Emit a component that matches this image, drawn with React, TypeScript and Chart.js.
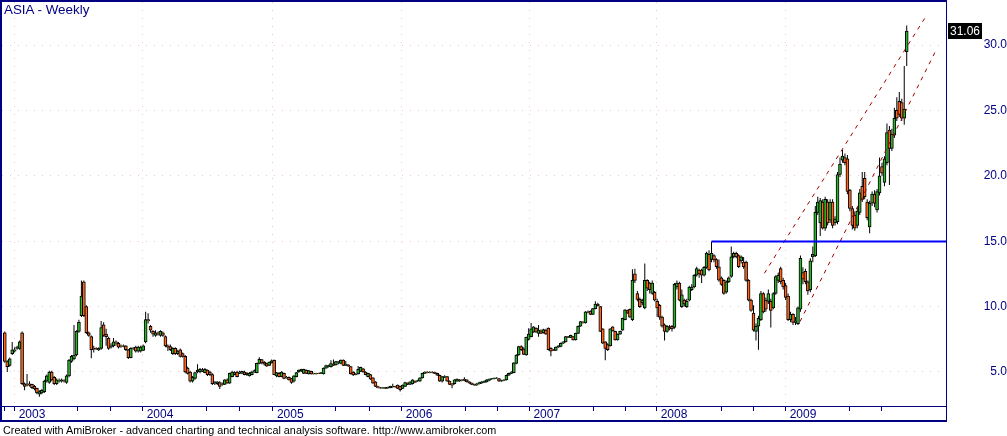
import React, { useEffect, useRef } from 'react';
import { Chart, registerables } from 'chart.js';

Chart.register(...registerables);

// Weekly OHLC, one entry per week (Dec 2002 .. Dec 2009)
const opens = [
  8.0, 5.8, 5.5, 6.4, 6.6, 6.8, 6.8, 8.0, 4.1, 4.0,
  4.1, 4.05, 3.9, 3.75, 3.3, 3.4, 3.5, 4.3, 4.2, 5.0,
  4.6, 4.1, 4.3, 4.3, 4.35, 4.2, 4.7, 5.8, 6.0, 6.3,
  8.1, 9.3, 11.9, 10.0, 8.0, 7.7, 6.8, 6.8, 6.7, 6.8,
  8.6, 7.9, 7.6, 6.9, 7.0, 7.3, 7.2, 7.0, 6.95, 7.0,
  6.7, 6.1, 6.8, 6.9, 6.6, 6.6, 6.65, 7.3, 9.0, 8.5,
  8.1, 7.8, 8.0, 7.8, 8.0, 7.7, 7.0, 6.95, 6.4, 6.8,
  6.4, 6.7, 6.4, 6.2, 5.3, 5.0, 4.3, 4.5, 5.0, 5.0,
  5.15, 4.95, 5.15, 5.0, 4.8, 4.15, 4.1, 4.2, 4.05, 4.05,
  4.4, 4.15, 4.65, 4.95, 5.0, 4.9, 4.9, 5.0, 4.8, 4.7,
  4.8, 5.0, 4.95, 5.66, 5.95, 5.75, 5.65, 5.5, 5.7, 5.9,
  4.7, 4.9, 4.65, 4.9, 4.55, 4.6, 4.5, 4.3, 4.65, 5.0,
  5.1, 4.9, 5.15, 4.85, 5.05, 4.9, 4.85, 4.9, 4.88, 4.85,
  5.3, 5.4, 5.4, 5.6, 5.55, 5.75, 5.66, 5.92, 5.5, 5.55,
  5.41, 5.0, 4.8, 4.85, 5.05, 5.25, 5.0, 4.65, 4.8, 4.55,
  4.25, 3.88, 3.78, 3.76, 3.8, 3.76, 3.8, 3.9, 3.85, 4.0,
  3.9, 3.75, 3.9, 4.15, 4.05, 4.1, 4.3, 4.3, 4.3, 4.55,
  4.9, 5.0, 4.95, 5.0, 4.98, 4.9, 4.75, 4.3, 4.6, 4.65,
  4.3, 4.1, 4.1, 4.3, 4.3, 4.4, 4.35, 4.4, 4.25, 4.15,
  4.05, 4.0, 4.1, 4.15, 4.2, 4.25, 4.35, 4.45, 4.48, 4.52,
  4.5, 4.3, 4.35, 4.4, 4.75, 4.9, 4.95, 5.66, 6.3, 6.95,
  6.75, 6.3, 7.5, 7.7, 8.05, 8.35, 7.95, 8.15, 8.0, 8.2,
  8.35, 6.8, 6.7, 6.65, 6.9, 6.95, 7.2, 7.3, 7.7, 7.65,
  7.7, 7.45, 7.95, 8.5, 8.8, 8.75, 9.55, 9.65, 9.4, 9.85,
  10.2, 10.0, 8.3, 7.3, 7.1, 7.0, 8.45, 8.1, 7.45, 7.9,
  8.2, 9.0, 9.7, 9.8, 9.0, 12.5, 11.0, 10.55, 10.3, 9.9,
  12.0, 11.8, 11.0, 11.1, 10.4, 10.1, 9.2, 8.6, 8.1, 8.4,
  8.5, 8.4, 11.5, 11.8, 10.0, 10.5, 10.0, 10.5, 11.3, 11.5,
  12.4, 12.8, 12.8, 12.4, 13.0, 14.0, 13.6, 13.9, 13.6, 13.05,
  12.2, 12.0, 11.1, 11.9, 12.3, 13.8, 14.07, 13.9, 13.5, 13.4,
  13.4, 12.0, 10.5, 9.5, 8.1, 8.5, 9.0, 11.0, 10.5, 10.4,
  10.4, 9.9, 11.0, 12.0, 12.9, 12.0, 11.6, 10.8, 9.0, 9.4,
  8.8, 8.7, 9.8, 12.6, 12.7, 11.9, 11.3, 13.8, 13.9, 17.2,
  16.4, 18.0, 16.0, 18.0, 16.6, 18.0, 16.4, 16.5, 20.1, 21.2,
  21.4, 21.3, 18.9, 17.5, 17.0, 16.2, 17.2, 19.2, 19.8, 18.0,
  16.1, 17.9, 18.6, 17.4, 18.7, 20.7, 19.5, 21.0, 23.5, 22.1,
  23.1, 25.0, 25.7, 25.6, 24.4, 29.5,
];

const highs = [
  8.1, 5.9, 6.1, 7.3, 6.9, 7.0, 7.4, 8.1, 4.2, 4.85,
  4.3, 4.1, 4.0, 3.8, 3.6, 3.7, 4.4, 4.8, 5.1, 5.1,
  4.7, 4.5, 4.5, 4.5, 4.45, 4.8, 6.0, 6.3, 8.6, 8.2,
  9.0, 12.0, 12.0, 10.1, 8.1, 7.8, 7.0, 6.9, 6.9, 8.9,
  8.8, 8.3, 7.7, 7.2, 7.6, 7.4, 7.3, 7.1, 7.1, 7.05,
  6.75, 6.9, 6.9, 7.0, 7.0, 7.0, 7.1, 9.6, 9.5, 8.6,
  8.2, 8.2, 8.1, 8.2, 8.1, 7.8, 7.1, 7.1, 6.9, 6.9,
  6.7, 6.8, 6.5, 6.3, 5.4, 5.1, 4.7, 5.0, 5.6, 5.3,
  5.3, 5.3, 5.2, 5.1, 4.9, 4.3, 4.3, 4.3, 4.2, 4.45,
  4.5, 4.95, 5.1, 5.05, 5.1, 5.1, 5.1, 5.1, 5.0, 5.0,
  5.1, 5.2, 5.7, 6.12, 6.0, 5.85, 5.7, 5.8, 5.95, 5.95,
  5.0, 5.0, 5.05, 4.95, 4.7, 4.65, 4.55, 4.75, 5.0, 5.2,
  5.25, 5.25, 5.2, 5.15, 5.1, 4.95, 4.95, 4.95, 5.0, 5.35,
  5.55, 5.55, 5.9, 5.95, 5.85, 5.85, 5.95, 5.95, 5.85, 5.6,
  5.45, 5.05, 4.9, 5.45, 5.4, 5.3, 5.05, 4.95, 4.85, 4.6,
  4.3, 3.95, 3.85, 3.85, 3.85, 3.88, 3.95, 4.1, 3.95, 4.05,
  3.95, 4.05, 4.25, 4.2, 4.3, 4.45, 4.35, 4.4, 4.6, 4.95,
  5.05, 5.05, 5.05, 5.05, 5.02, 4.95, 4.8, 4.7, 4.75, 4.7,
  4.35, 4.15, 4.45, 4.5, 4.45, 4.45, 4.6, 4.45, 4.3, 4.2,
  4.1, 4.15, 4.25, 4.3, 4.35, 4.45, 4.5, 4.55, 4.58, 4.6,
  4.55, 4.4, 4.45, 4.8, 4.95, 5.05, 5.75, 6.35, 7.0, 7.05,
  6.9, 7.7, 8.35, 8.75, 8.5, 8.4, 8.6, 8.25, 8.3, 8.3,
  8.4, 6.9, 6.75, 6.95, 7.05, 7.25, 7.35, 7.75, 7.75, 7.85,
  7.75, 8.0, 8.55, 8.9, 8.9, 9.65, 9.7, 9.7, 9.9, 10.4,
  10.3, 10.05, 8.35, 7.35, 7.2, 8.35, 8.5, 8.15, 7.95, 8.15,
  9.15, 9.8, 9.75, 9.85, 12.85, 12.9, 11.2, 10.7, 10.6, 13.3,
  12.1, 11.9, 12.0, 11.2, 10.6, 10.2, 9.3, 8.7, 8.6, 8.6,
  8.6, 11.8, 12.0, 11.9, 11.3, 10.6, 10.6, 11.6, 11.7, 12.5,
  13.05, 12.9, 12.9, 13.1, 14.2, 14.3, 14.98, 14.0, 13.7, 13.6,
  12.3, 12.1, 12.0, 12.3, 14.6, 14.2, 14.2, 14.0, 13.9, 13.8,
  13.5, 12.1, 10.6, 10.1, 8.7, 9.3, 11.2, 11.1, 10.7, 11.3,
  10.6, 11.1, 12.4, 12.6, 13.05, 12.2, 11.8, 11.0, 9.6, 9.5,
  9.2, 10.0, 13.9, 13.0, 12.9, 12.0, 13.7, 14.6, 17.7, 18.4,
  18.3, 18.2, 18.4, 18.2, 18.2, 18.2, 16.9, 20.3, 21.4, 22.0,
  21.7, 21.6, 19.0, 17.7, 17.3, 17.6, 19.0, 20.3, 20.3, 18.2,
  18.1, 18.8, 18.9, 19.0, 21.4, 21.0, 21.5, 24.0, 23.8, 23.6,
  25.2, 26.0, 26.4, 25.9, 28.4, 31.5,
];

const lows = [
  5.7, 5.0, 5.4, 6.3, 6.5, 6.7, 6.7, 4.0, 3.6, 3.9,
  3.9, 3.7, 3.6, 3.3, 3.1, 3.3, 3.4, 4.2, 4.1, 4.3,
  4.0, 4.0, 4.2, 4.2, 4.2, 4.1, 4.6, 5.7, 5.9, 6.2,
  8.0, 9.2, 9.2, 7.9, 7.7, 6.05, 6.5, 6.7, 6.6, 6.7,
  7.7, 7.0, 6.7, 6.8, 6.9, 7.0, 6.8, 6.85, 6.9, 6.6,
  6.0, 6.05, 6.7, 6.5, 6.5, 6.5, 6.6, 7.2, 8.7, 8.0,
  7.7, 7.7, 7.8, 7.7, 7.7, 6.9, 6.6, 6.6, 6.3, 6.3,
  6.3, 6.1, 6.1, 4.9, 4.8, 4.2, 4.2, 4.4, 4.9, 4.9,
  5.0, 4.9, 4.7, 4.7, 4.0, 4.0, 4.0, 3.7, 3.95, 4.0,
  4.1, 4.1, 4.6, 4.75, 4.6, 4.85, 4.85, 4.75, 4.7, 4.65,
  4.75, 4.95, 4.9, 5.6, 5.6, 5.5, 5.4, 5.45, 5.65, 4.75,
  4.6, 4.6, 4.6, 4.45, 4.5, 4.35, 4.1, 4.2, 4.6, 4.95,
  5.0, 4.85, 4.85, 4.8, 4.8, 4.8, 4.8, 4.85, 4.85, 4.8,
  5.25, 5.35, 5.35, 5.45, 5.5, 5.6, 5.6, 5.45, 5.45, 5.4,
  4.8, 4.7, 4.75, 4.8, 5.0, 4.95, 4.75, 4.6, 4.4, 4.1,
  3.85, 3.75, 3.72, 3.72, 3.7, 3.72, 3.75, 3.8, 3.8, 3.7,
  3.5, 3.7, 3.85, 4.0, 4.0, 4.05, 4.15, 4.25, 4.25, 4.5,
  4.85, 4.9, 4.9, 4.9, 4.85, 4.7, 4.25, 4.2, 4.55, 4.25,
  4.0, 3.75, 4.05, 4.25, 4.25, 4.3, 4.3, 4.2, 4.1, 4.0,
  3.95, 3.95, 4.05, 4.1, 4.15, 4.2, 4.3, 4.4, 4.45, 4.48,
  4.25, 4.25, 4.3, 4.35, 4.7, 4.85, 4.9, 5.6, 6.25, 6.6,
  6.3, 6.25, 7.4, 7.65, 8.0, 8.0, 7.7, 7.9, 7.95, 7.85,
  6.65, 6.2, 6.6, 6.6, 6.85, 6.9, 7.15, 7.25, 7.6, 7.6,
  7.4, 7.4, 7.9, 8.45, 8.7, 8.7, 9.5, 9.35, 9.35, 9.8,
  10.0, 8.05, 7.15, 5.9, 6.6, 6.95, 8.1, 7.4, 7.4, 7.85,
  8.15, 8.95, 9.45, 9.15, 8.9, 11.8, 10.4, 9.9, 10.1, 9.8,
  11.2, 11.0, 10.9, 10.4, 9.2, 9.0, 8.4, 7.4, 8.0, 8.2,
  8.1, 8.3, 11.3, 10.4, 9.9, 10.0, 9.9, 10.4, 11.2, 11.4,
  12.3, 12.2, 11.8, 12.3, 12.9, 12.7, 13.4, 13.4, 12.9, 11.9,
  11.6, 10.9, 11.0, 11.8, 12.2, 13.7, 13.7, 12.95, 13.3, 12.9,
  11.9, 10.4, 9.6, 8.1, 7.4, 6.7, 8.9, 9.5, 9.6, 10.2,
  8.4, 9.8, 10.9, 11.8, 11.7, 11.3, 10.5, 8.9, 8.8, 8.6,
  8.6, 8.6, 9.6, 11.7, 11.7, 10.9, 11.1, 13.4, 13.8, 17.0,
  15.4, 15.9, 15.8, 16.2, 16.4, 16.0, 16.2, 16.3, 19.9, 21.0,
  20.8, 18.6, 17.3, 15.9, 15.8, 16.0, 17.0, 18.0, 18.2, 16.6,
  15.6, 17.7, 17.6, 17.2, 18.5, 20.0, 19.2, 20.8, 19.3, 21.9,
  22.9, 24.2, 24.5, 24.2, 23.9, 28.4,
];

const closes = [
  5.8, 5.4, 6.0, 6.7, 6.7, 6.9, 7.3, 4.1, 3.9, 4.1,
  4.0, 3.8, 3.7, 3.4, 3.5, 3.6, 4.3, 4.7, 5.0, 4.4,
  4.1, 4.4, 4.35, 4.4, 4.3, 4.7, 5.9, 6.2, 6.3, 8.1,
  8.8, 10.8, 9.3, 8.0, 7.8, 6.7, 6.75, 6.75, 6.8, 8.4,
  7.8, 7.7, 6.8, 7.0, 7.3, 7.2, 6.9, 6.95, 7.0, 6.7,
  6.1, 6.8, 6.85, 6.6, 6.9, 6.9, 7.0, 9.0, 8.9, 8.2,
  7.9, 8.0, 7.9, 8.1, 7.8, 7.0, 6.9, 6.7, 6.8, 6.4,
  6.6, 6.2, 6.2, 5.0, 4.9, 4.3, 4.6, 4.95, 5.15, 5.2,
  5.05, 5.2, 4.8, 4.8, 4.1, 4.25, 4.25, 3.9, 4.1, 4.4,
  4.15, 4.9, 5.0, 4.8, 4.65, 5.0, 5.05, 4.8, 4.9, 4.9,
  5.0, 5.1, 5.66, 5.97, 5.7, 5.6, 5.45, 5.75, 5.85, 4.8,
  4.95, 4.65, 5.0, 4.5, 4.6, 4.4, 4.2, 4.7, 4.95, 5.15,
  5.2, 5.2, 4.9, 5.1, 4.85, 4.85, 4.9, 4.88, 4.95, 5.3,
  5.5, 5.5, 5.65, 5.5, 5.8, 5.8, 5.92, 5.5, 5.6, 5.45,
  4.85, 4.77, 4.85, 5.2, 5.35, 5.0, 4.8, 4.9, 4.45, 4.14,
  3.9, 3.78, 3.76, 3.8, 3.75, 3.82, 3.9, 3.85, 3.9, 3.75,
  3.65, 4.0, 4.2, 4.05, 4.25, 4.4, 4.2, 4.35, 4.55, 4.9,
  5.0, 4.95, 5.0, 4.97, 4.9, 4.75, 4.3, 4.65, 4.65, 4.3,
  4.05, 4.0, 4.4, 4.45, 4.4, 4.35, 4.45, 4.25, 4.15, 4.05,
  4.0, 4.1, 4.2, 4.25, 4.3, 4.4, 4.45, 4.5, 4.52, 4.55,
  4.3, 4.35, 4.4, 4.75, 4.9, 5.0, 5.7, 6.3, 6.95, 6.7,
  6.35, 7.65, 7.9, 8.3, 8.45, 8.05, 8.2, 7.95, 8.25, 7.9,
  6.7, 6.6, 6.65, 6.9, 7.0, 7.2, 7.3, 7.7, 7.65, 7.8,
  7.45, 7.95, 8.5, 8.85, 8.75, 9.6, 9.6, 9.4, 9.85, 10.2,
  10.05, 8.1, 7.2, 6.8, 6.7, 8.3, 8.15, 7.45, 7.9, 8.1,
  9.1, 9.75, 9.5, 9.2, 12.0, 12.0, 10.55, 10.0, 10.5, 12.0,
  11.4, 11.3, 11.8, 10.5, 9.9, 9.2, 8.5, 8.1, 8.5, 8.3,
  8.3, 11.7, 11.8, 10.5, 10.9, 10.2, 10.4, 11.5, 11.5, 12.4,
  12.9, 12.5, 12.4, 13.0, 14.1, 12.8, 14.1, 13.56, 13.05, 12.03,
  11.7, 11.0, 11.9, 12.2, 13.8, 14.07, 13.8, 13.05, 13.8, 13.05,
  12.0, 10.5, 9.7, 8.2, 8.5, 9.1, 11.0, 9.6, 9.8, 11.0,
  9.7, 11.0, 12.3, 12.4, 11.9, 11.5, 10.7, 9.0, 9.4, 8.8,
  8.9, 9.9, 13.7, 12.1, 11.9, 11.2, 13.5, 14.0, 17.2, 18.0,
  18.1, 16.0, 18.2, 16.4, 18.0, 16.2, 16.7, 20.1, 20.9, 21.5,
  21.0, 18.8, 17.5, 16.2, 16.0, 17.3, 18.7, 18.2, 18.4, 16.8,
  17.9, 18.6, 17.9, 18.8, 20.0, 20.2, 21.3, 23.3, 22.1, 23.2,
  24.4, 24.4, 24.7, 24.4, 25.1, 31.06,
];

// x-axis: week index of year starts (labelled) and of the other quarter marks
const yearTicks = [4, 55.8, 108.5, 160.6, 212.3, 263.8, 316];
const yearLabels = ['2003', '2004', '2005', '2006', '2007', '2008', '2009'];
const minorTicks = [0, 29.6, 42.6, 81.7, 94.9, 134, 147.5, 186.6, 199.3, 238.2, 251.3, 290.1, 302.9, 341.8, 354.6];
const priceTicks = [5, 10, 15, 20, 25, 30];

// drawn studies (week index, price)
const resistanceLevel = 14.98;
const resistanceStartWeek = 286;
const upperChannel = [{ x: 307.4, y: 12.55 }, { x: 373.1, y: 32.29 }];
const lowerChannel = [{ x: 321.8, y: 8.85 }, { x: 376.9, y: 29.62 }];

const X_MIN = -1.13;
const X_MAX = 380.9;
const Y_MIN = 2.4;
const Y_MAX = 33.29;

const NAVY = '#000080';
const PINK = '#efc4cf';
const UP = '#2ab42a';
const DOWN = '#ff6418';
const FONT = '"Liberation Sans", Arial, sans-serif';

const zeroPadding = (s: any) => {
  s.paddingTop = 0;
  s.paddingBottom = 0;
  s.paddingLeft = 0;
  s.paddingRight = 0;
};

export default function App() {
  const ref = useRef<HTMLCanvasElement>(null);

  useEffect(() => {
    const canvas = ref.current;
    if (!canvas) return;
    const n = closes.length;
    const idx = closes.map((_, i) => i);
    const allTicks = [...minorTicks, ...yearTicks].sort((a, b) => a - b);
    const yearIndex = (v: number) => yearTicks.findIndex((t) => Math.abs(t - v) < 1e-6);

    const framePlugin = {
      id: 'frame',
      afterDraw(chart: any) {
        const ctx = chart.ctx;
        ctx.save();
        ctx.fillStyle = NAVY;
        ctx.fillRect(0, 0, 947, 2);
        ctx.fillRect(0, 0, 2, 422);
        ctx.fillRect(946, 0, 1, 422);
        ctx.fillRect(0, 406, 947, 1);
        ctx.fillRect(0, 420, 947, 2);
        const last = closes[n - 1];
        const y = Math.round(chart.scales.y.getPixelForValue(last));
        ctx.fillStyle = '#000';
        ctx.fillRect(948, y - 8, 34, 16);
        ctx.fillStyle = '#fff';
        ctx.font = '12px ' + FONT;
        ctx.textAlign = 'left';
        ctx.textBaseline = 'middle';
        ctx.fillText(last.toFixed(2), 950, y + 0.5);
        ctx.restore();
      },
    };

    const chart = new Chart(canvas, {
      type: 'bar',
      data: {
        datasets: [
          {
            type: 'line',
            label: 'Resistance',
            data: [
              { x: resistanceStartWeek, y: resistanceLevel },
              { x: X_MAX, y: resistanceLevel },
            ],
            borderColor: '#0000ff',
            borderWidth: 2,
            pointRadius: 0,
            order: 0,
          },
          {
            type: 'line',
            label: 'Upper channel',
            data: upperChannel,
            borderColor: '#a00000',
            borderWidth: 1,
            borderDash: [4, 5],
            pointRadius: 0,
            order: 0,
          },
          {
            type: 'line',
            label: 'Lower channel',
            data: lowerChannel,
            borderColor: '#a00000',
            borderWidth: 1,
            borderDash: [4, 5],
            pointRadius: 0,
            order: 0,
          },
          {
            type: 'bar',
            label: 'Body',
            data: idx.map((i) => ({ x: i, y: [opens[i], closes[i]] })),
            backgroundColor: idx.map((i) => (closes[i] >= opens[i] ? UP : DOWN)),
            borderColor: '#000',
            borderWidth: 1,
            borderSkipped: false,
            barThickness: 3,
            grouped: false,
            order: 1,
          },
          {
            type: 'bar',
            label: 'Range',
            data: idx.map((i) => ({ x: i, y: [lows[i], highs[i]] })),
            backgroundColor: '#000',
            borderWidth: 0,
            barThickness: 1,
            inflateAmount: 0,
            grouped: false,
            order: 2,
          },
        ] as any,
      },
      options: {
        responsive: false,
        animation: false,
        devicePixelRatio: 1,
        layout: { padding: { left: 2, top: 2, right: 0, bottom: 15 } },
        plugins: {
          legend: { display: false },
          tooltip: { enabled: false },
        },
        scales: {
          x: {
            type: 'linear',
            position: 'bottom',
            min: X_MIN,
            max: X_MAX,
            offset: false,
            bounds: 'data',
            afterBuildTicks: (s: any) => {
              s.ticks = allTicks.map((v) => ({ value: v }));
            },
            afterFit: (s: any) => {
              s.height = 15;
              zeroPadding(s);
            },
            grid: {
              offset: false,
              drawTicks: true,
              tickLength: 5,
              tickColor: NAVY,
              tickWidth: 1,
              lineWidth: 1,
              color: (c: any) =>
                c.tick && yearIndex(c.tick.value) >= 0 ? PINK : 'rgba(0,0,0,0)',
            },
            border: { display: true, color: NAVY, width: 1, dash: [1, 7] },
            ticks: {
              autoSkip: false,
              maxRotation: 0,
              minRotation: 0,
              align: 'start',
              labelOffset: 4,
              padding: -4,
              color: NAVY,
              font: { family: FONT, size: 12 },
              callback: (v: any) => {
                const k = yearIndex(Number(v));
                return k >= 0 ? yearLabels[k] : '';
              },
            },
          },
          y: {
            type: 'linear',
            position: 'right',
            min: Y_MIN,
            max: Y_MAX,
            bounds: 'data',
            beginAtZero: false,
            afterBuildTicks: (s: any) => {
              s.ticks = priceTicks.map((v) => ({ value: v }));
            },
            afterFit: (s: any) => {
              s.width = 61;
              zeroPadding(s);
            },
            grid: { color: PINK, drawTicks: false, lineWidth: 1 },
            border: { display: true, color: NAVY, width: 1, dash: [1, 7] },
            ticks: {
              color: NAVY,
              padding: 35,
              crossAlign: 'far',
              font: { family: FONT, size: 12 },
              callback: (v: any) => Number(v).toFixed(1),
            },
          },
        },
      } as any,
      plugins: [framePlugin],
    });

    return () => chart.destroy();
  }, []);

  return (
    <div
      style={{
        position: 'fixed',
        left: 0,
        top: 0,
        width: 1007,
        height: 436,
        background: '#fff',
        overflow: 'hidden',
      }}
    >
      <canvas ref={ref} width={1007} height={436} style={{ display: 'block' }} />
      <div
        style={{
          position: 'absolute',
          left: 4,
          top: 2,
          font: '13.4px ' + FONT,
          color: NAVY,
          whiteSpace: 'nowrap',
        }}
      >
        ASIA - Weekly
      </div>
      <div
        style={{
          position: 'absolute',
          left: 3,
          top: 424,
          font: '10.8px ' + FONT,
          color: '#000',
          whiteSpace: 'nowrap',
        }}
      >
        Created with AmiBroker - advanced charting and technical analysis software. http://www.amibroker.com
      </div>
    </div>
  );
}
